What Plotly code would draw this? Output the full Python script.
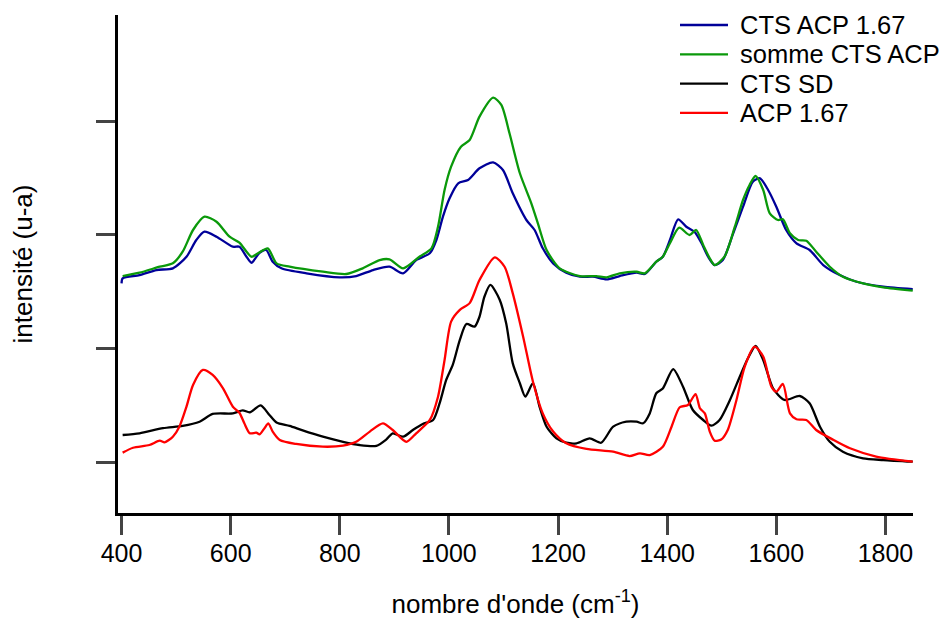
import plotly.graph_objects as go

# CTS ACP 1.67 (blue)
wn_cts_acp = [400, 402, 433, 464, 494, 519, 537, 552, 574, 604, 616, 629, 638, 653, 665, 677, 693, 739, 800, 830,
              861, 891, 916, 940, 965, 977, 989, 1001, 1017, 1035, 1056, 1081, 1099, 1117, 1142, 1157, 1172, 1191,
              1215, 1240, 1264, 1289, 1313, 1344, 1359, 1380, 1392, 1405, 1420, 1435, 1450, 1463, 1475, 1487, 1502,
              1521, 1539, 1557, 1570, 1585, 1600, 1618, 1637, 1661, 1686, 1716, 1747, 1796, 1850]
int_cts_acp = [1.574, 1.618, 1.647, 1.691, 1.706, 1.808, 1.955, 2.028, 1.984, 1.896, 1.896, 1.808, 1.755, 1.843,
               1.867, 1.764, 1.706, 1.662, 1.627, 1.638, 1.691, 1.72, 1.662, 1.779, 1.838, 1.955, 2.16, 2.32, 2.454,
               2.483, 2.586, 2.638, 2.571, 2.366, 2.131, 2.043, 1.882, 1.75, 1.668, 1.632, 1.632, 1.609, 1.638,
               1.668, 1.656, 1.764, 1.808, 1.955, 2.137, 2.072, 2.028, 1.926, 1.808, 1.735, 1.779, 2.014, 2.248,
               2.468, 2.498, 2.395, 2.248, 2.043, 1.926, 1.867, 1.735, 1.647, 1.588, 1.544, 1.522]

# somme CTS ACP (green)
wn_somme = [402, 433, 470, 494, 512, 531, 552, 574, 598, 616, 638, 650, 668, 684, 708, 769, 812, 842, 873, 891,
            916, 946, 968, 980, 992, 1004, 1022, 1038, 1056, 1081, 1096, 1111, 1130, 1151, 1163, 1179, 1203, 1240,
            1270, 1289, 1313, 1344, 1359, 1380, 1392, 1405, 1422, 1441, 1453, 1466, 1478, 1487, 1505, 1524, 1539,
            1551, 1562, 1576, 1588, 1603, 1612, 1625, 1640, 1655, 1673, 1698, 1722, 1759, 1796, 1850]
int_somme = [1.638, 1.668, 1.72, 1.75, 1.852, 2.043, 2.16, 2.116, 1.984, 1.931, 1.808, 1.838, 1.882, 1.75, 1.72,
             1.676, 1.656, 1.706, 1.779, 1.785, 1.706, 1.808, 1.882, 2.072, 2.395, 2.6, 2.776, 2.835, 3.04, 3.207,
             3.143, 2.894, 2.542, 2.278, 2.102, 1.867, 1.706, 1.638, 1.638, 1.627, 1.662, 1.676, 1.662, 1.764,
             1.808, 1.926, 2.063, 1.999, 2.043, 1.911, 1.794, 1.735, 1.808, 2.072, 2.307, 2.439, 2.518, 2.395,
             2.19, 2.131, 2.137, 2.014, 1.955, 1.949, 1.852, 1.72, 1.632, 1.574, 1.539, 1.509]

# CTS SD (black)
wn_cts_sd = [402, 433, 476, 512, 543, 567, 604, 622, 635, 655, 671, 684, 708, 732, 769, 806, 836, 867, 885, 897,
             916, 934, 952, 971, 983, 995, 1007, 1020, 1032, 1047, 1056, 1065, 1076, 1093, 1105, 1117, 1130, 1140,
             1154, 1166, 1179, 1197, 1215, 1234, 1258, 1279, 1301, 1325, 1344, 1356, 1368, 1380, 1392, 1411, 1429,
             1447, 1466, 1481, 1496, 1515, 1533, 1548, 1562, 1576, 1594, 1615, 1643, 1661, 1680, 1698, 1722, 1759,
             1796, 1850]
int_cts_sd = [0.24, 0.255, 0.30, 0.32, 0.357, 0.425, 0.43, 0.457, 0.44, 0.50, 0.416, 0.35, 0.32, 0.28, 0.225, 0.18,
              0.152, 0.145, 0.2, 0.255, 0.225, 0.284, 0.337, 0.372, 0.52, 0.724, 0.856, 1.076, 1.216, 1.193, 1.28,
              1.456, 1.56, 1.43, 1.22, 0.87, 0.695, 0.577, 0.695, 0.49, 0.313, 0.21, 0.172, 0.167, 0.21, 0.172,
              0.313, 0.357, 0.357, 0.343, 0.43, 0.607, 0.65, 0.82, 0.665, 0.46, 0.372, 0.322, 0.372, 0.548, 0.753,
              0.915, 1.023, 0.9, 0.65, 0.548, 0.583, 0.519, 0.313, 0.18, 0.093, 0.035, 0.02, 0.005]

# ACP 1.67 (red)
wn_acp = [402, 421, 451, 470, 479, 494, 506, 519, 531, 549, 567, 586, 604, 616, 625, 635, 647, 653, 662, 669, 677,
          690, 720, 769, 806, 830, 855, 879, 897, 922, 940, 965, 980, 992, 1004, 1020, 1038, 1056, 1084, 1102, 1117,
          1136, 1154, 1172, 1191, 1215, 1252, 1301, 1331, 1350, 1368, 1392, 1408, 1423, 1438, 1452, 1460, 1469,
          1478, 1487, 1499, 1511, 1527, 1542, 1560, 1576, 1591, 1600, 1612, 1625, 1637, 1655, 1673, 1705, 1735,
          1783, 1850]
int_acp = [0.085, 0.128, 0.152, 0.19, 0.176, 0.225, 0.313, 0.489, 0.68, 0.812, 0.768, 0.65, 0.489, 0.436, 0.343,
           0.255, 0.26, 0.246, 0.3, 0.343, 0.27, 0.196, 0.161, 0.137, 0.146, 0.18, 0.27, 0.343, 0.284, 0.18, 0.255,
           0.372, 0.577, 0.9, 1.237, 1.34, 1.4, 1.603, 1.803, 1.72, 1.486, 1.105, 0.709, 0.43, 0.27, 0.167, 0.117,
           0.093, 0.055, 0.079, 0.064, 0.137, 0.313, 0.484, 0.504, 0.6, 0.475, 0.43, 0.27, 0.19, 0.2, 0.284, 0.548,
           0.84, 1.017, 0.93, 0.665, 0.621, 0.689, 0.43, 0.378, 0.372, 0.284, 0.196, 0.123, 0.05, 0.005]

x_ticks = [400, 600, 800, 1000, 1200, 1400, 1600, 1800]
y_ticks = [0, 1, 2, 3]

font = "Arial, Liberation Sans, sans-serif"

fig = go.Figure()
series = [
    ("CTS ACP 1.67", wn_cts_acp, int_cts_acp, "#000099"),
    ("somme CTS ACP", wn_somme, int_somme, "#0a990a"),
    ("CTS SD", wn_cts_sd, int_cts_sd, "#000000"),
    ("ACP 1.67", wn_acp, int_acp, "#ff0000"),
]
for name, x, y, c in series:
    fig.add_trace(go.Scatter(x=x, y=y, name=name, mode="lines", showlegend=False,
                             line=dict(color=c, width=2.3, shape="spline", smoothing=0.7)))

# plot area is 795 x 498 px; legend drawn like the Igor one (tight rows, long sample line)
plot_w, plot_h = 795, 498
for i, (name, _, _, c) in enumerate(series):
    ly = 1 - (10 + 29.3 * i) / plot_h
    fig.add_shape(type="line", xref="paper", yref="paper",
                  x0=562 / plot_w, x1=610 / plot_w, y0=ly, y1=ly,
                  line=dict(color=c, width=2.3))
    fig.add_annotation(text=name, xref="paper", yref="paper", x=620 / plot_w, y=ly,
                       xanchor="left", yanchor="middle", showarrow=False,
                       font=dict(size=25.5), align="left")

# page has an 8px body margin, so the figure is 8px smaller than the window
fig.update_layout(
    width=944, height=611,
    margin=dict(l=110, r=39, t=7, b=106, autoexpand=False),
    paper_bgcolor="white", plot_bgcolor="white",
    font=dict(family=font, size=25, color="black"),
    showlegend=False,
)
fig.update_xaxes(range=[393.5, 1850.5], tickvals=x_ticks, ticks="outside", ticklen=19, tickwidth=2.5,
                 showline=True, linewidth=2.5, linecolor="black", showgrid=False, zeroline=False,
                 automargin=False, ticklabelstandoff=-3,
                 title=dict(text="nombre d'onde (cm<sup>-1</sup>)", standoff=36, font=dict(size=26)),
                 tickfont=dict(size=25))
fig.update_yaxes(range=[-0.446, 3.934], tickvals=y_ticks, showticklabels=False, ticks="outside", ticklen=19,
                 tickwidth=2.5, showline=True, linewidth=2.5, linecolor="black", showgrid=False, zeroline=False,
                 automargin=False,
                 title=dict(text="intensité (u-a)", standoff=68, font=dict(size=26)))

fig.write_html("out.html")
